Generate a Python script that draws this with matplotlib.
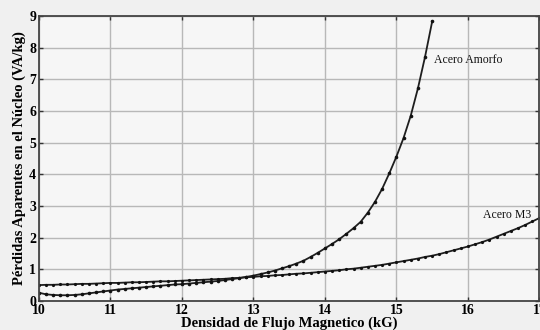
import matplotlib
matplotlib.use("Agg")
import matplotlib.pyplot as plt
import numpy as np

# Flux density (kG), sampled every 0.1 kG
b_amorfo = np.round(np.arange(10.0, 15.51, 0.1), 1)
b_m3 = np.round(np.arange(10.0, 17.01, 0.1), 1)

# Apparent core losses (VA/kg)
p_amorfo = [
    0.26, 0.21, 0.19, 0.18, 0.18, 0.19, 0.21, 0.24, 0.27, 0.30,
    0.33, 0.36, 0.38, 0.40, 0.42, 0.44, 0.46, 0.48, 0.50, 0.52,
    0.53, 0.55, 0.57, 0.59, 0.61, 0.63, 0.66, 0.69, 0.72, 0.76,
    0.80, 0.85, 0.90, 0.96, 1.03, 1.10, 1.18, 1.27, 1.39, 1.52,
    1.66, 1.80, 1.95, 2.12, 2.30, 2.50, 2.79, 3.13, 3.54, 4.03,
    4.56, 5.15, 5.85, 6.71, 7.71, 8.83,
]
p_m3 = [
    0.50, 0.51, 0.51, 0.52, 0.52, 0.53, 0.54, 0.54, 0.55, 0.56,
    0.57, 0.57, 0.58, 0.59, 0.59, 0.60, 0.61, 0.62, 0.62, 0.63,
    0.64, 0.65, 0.66, 0.67, 0.68, 0.69, 0.70, 0.72, 0.73, 0.75,
    0.76, 0.78, 0.79, 0.81, 0.82, 0.84, 0.86, 0.87, 0.89, 0.91,
    0.93, 0.95, 0.97, 1.00, 1.02, 1.05, 1.08, 1.11, 1.14, 1.18,
    1.22, 1.26, 1.30, 1.34, 1.39, 1.43, 1.48, 1.54, 1.60, 1.66,
    1.72, 1.79, 1.86, 1.94, 2.03, 2.12, 2.21, 2.30, 2.40, 2.51,
    2.62,
]

x_ticks = [10, 11, 12, 13, 14, 15, 16, 17]
y_ticks = [0, 1, 2, 3, 4, 5, 6, 7, 8, 9]

plt.rcParams["font.family"] = ["Liberation Serif", "DejaVu Serif"]

fig = plt.figure(figsize=(5.4, 3.3), dpi=100, facecolor="#f0f0f0")
ax = fig.add_axes([0.072, 0.088, 0.927, 0.8636])
ax.set_facecolor("#f6f6f6")

ax.plot(b_amorfo, p_amorfo, color="#1e1e1e", linewidth=1.3,
        marker="o", markersize=2.6, markerfacecolor="#111111", markeredgewidth=0)
ax.plot(b_m3, p_m3, color="#1e1e1e", linewidth=1.3,
        marker="o", markersize=2.3, markerfacecolor="#111111", markeredgewidth=0)

ax.set_xlim(10, 17)
ax.set_ylim(0, 9)
ax.set_xticks(x_ticks)
ax.set_yticks(y_ticks)
ax.grid(True, color="#b8b8b8", linewidth=1.0)
ax.set_axisbelow(True)

ax.tick_params(direction="in", top=True, right=True, length=3, width=1,
               color="#333333", labelsize=10, pad=2)
for lbl in ax.get_xticklabels() + ax.get_yticklabels():
    lbl.set_fontweight("bold")
for sp in ax.spines.values():
    sp.set_color("#444444")
    sp.set_linewidth(1.3)

ax.set_xlabel("Densidad de Flujo Magnetico (kG)", fontsize=10.5,
              fontweight="bold", labelpad=0)
ax.set_ylabel("Pérdidas Aparentes en el Núcleo (VA/kg)", fontsize=10.5,
              fontweight="bold", labelpad=2)

ax.text(15.52, 7.6, "Acero Amorfo", fontsize=8.5,
        ha="left", va="center", color="#111111")
ax.text(16.88, 2.7, "Acero M3", fontsize=8.5,
        ha="right", va="center", color="#111111")

fig.savefig("out.png", dpi=100, facecolor=fig.get_facecolor())
